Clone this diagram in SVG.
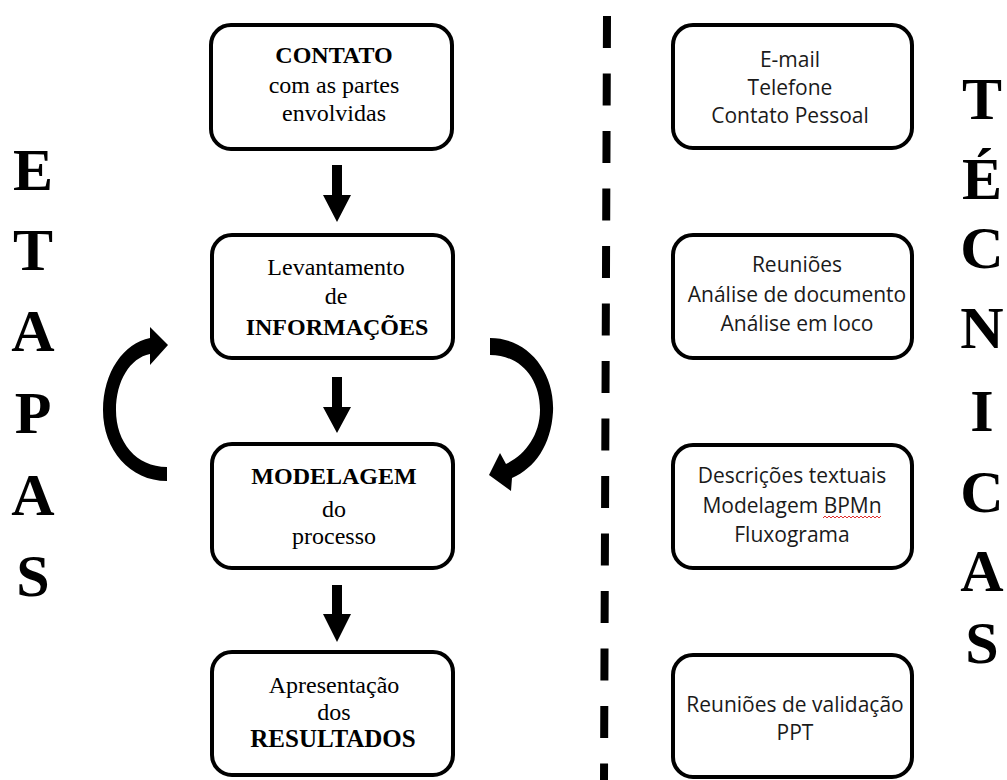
<svg xmlns="http://www.w3.org/2000/svg" width="1007" height="780" viewBox="0 0 1007 780">
<style>
.box{fill:#fff;stroke:#000;stroke-width:4}
.tl{font-family:"Liberation Serif","Times New Roman",serif;font-size:24px;fill:#000;text-anchor:middle}
.b{font-weight:bold}
.tr{font-family:"Open Sans","Noto Sans",sans-serif;font-size:21px;fill:#1a1a1a;text-anchor:middle}
.big{font-family:"Liberation Serif","Times New Roman",serif;font-size:60px;font-weight:bold;fill:#000;text-anchor:middle}
.arr{fill:#000}
</style>
<rect width="1007" height="780" fill="#fff"/>

<g id="etapas">
<text class="big" x="33" y="190">E</text>
<text class="big" x="33" y="270">T</text>
<text class="big" x="33" y="351">A</text>
<text class="big" x="33" y="433">P</text>
<text class="big" x="33" y="515">A</text>
<text class="big" x="33" y="596">S</text>
</g>
<g id="tecnicas">
<text class="big" x="982" y="119">T</text>
<text class="big" x="982" y="199">É</text>
<text class="big" x="982" y="268">C</text>
<text class="big" x="982" y="348">N</text>
<text class="big" x="982" y="431">I</text>
<text class="big" x="982" y="512">C</text>
<text class="big" x="982" y="591">A</text>
<text class="big" x="982" y="663">S</text>
</g>

<g id="box-contato">
<rect class="box" x="211" y="25" width="241" height="124" rx="20"/>
<text class="tl b" x="334" y="63">CONTATO</text>
<text class="tl" x="334" y="93">com as partes</text>
<text class="tl" x="334" y="121">envolvidas</text>
</g>
<g id="box-levantamento">
<rect class="box" x="212" y="235" width="241" height="123" rx="20"/>
<text class="tl" x="336" y="275">Levantamento</text>
<text class="tl" x="336" y="304">de</text>
<text class="tl b" x="337" y="335">INFORMAÇÕES</text>
</g>
<g id="box-modelagem">
<rect class="box" x="212" y="444" width="241" height="124" rx="20"/>
<text class="tl b" x="334" y="484">MODELAGEM</text>
<text class="tl" x="334" y="517">do</text>
<text class="tl" x="334" y="544">processo</text>
</g>
<g id="box-apresentacao">
<rect class="box" x="212" y="652" width="241" height="123" rx="20"/>
<text class="tl" x="334" y="693">Apresentação</text>
<text class="tl" x="334" y="720">dos</text>
<text class="tl b" x="333" y="747" style="font-size:25px">RESULTADOS</text>
</g>

<g id="tec-contato">
<rect class="box" x="673" y="25" width="239" height="123" rx="20"/>
<text class="tr" x="790" y="67">E-mail</text>
<text class="tr" x="790" y="95">Telefone</text>
<text class="tr" x="790" y="123">Contato Pessoal</text>
</g>
<g id="tec-levantamento">
<rect class="box" x="673" y="235" width="239" height="123" rx="20"/>
<text class="tr" x="797" y="272">Reuniões</text>
<text class="tr" x="797" y="302">Análise de documento</text>
<text class="tr" x="797" y="331">Análise em loco</text>
</g>
<g id="tec-modelagem">
<rect class="box" x="673" y="445" width="239" height="123" rx="20"/>
<text class="tr" x="792" y="483">Descrições textuais</text>
<text class="tr" x="792" y="513">Modelagem BPMn</text>
<text class="tr" x="792" y="542">Fluxograma</text>
<path d="M823 518 l2 -2 l2 2 l2 -2 l2 2 l2 -2 l2 2 l2 -2 l2 2 l2 -2 l2 2 l2 -2 l2 2 l2 -2 l2 2 l2 -2 l2 2 l2 -2 l2 2 l2 -2 l2 2 l2 -2 l2 2 l2 -2 l2 2 l2 -2 l2 2 l2 -2 l2 2 l2 -2" fill="none" stroke="#e03030" stroke-width="1"/>
</g>
<g id="tec-apresentacao">
<rect class="box" x="673" y="655" width="239" height="122" rx="20"/>
<text class="tr" x="795" y="712">Reuniões de validação</text>
<text class="tr" x="795" y="740">PPT</text>
</g>

<g id="connectors">
<path class="arr" d="M332 165 H342 V195 H351 L337 222 L323 195 H332 Z"/>
<path class="arr" d="M332 377 H342 V407 H351 L337 433 L323 407 H332 Z"/>
<path class="arr" d="M332 585 H342 V614 H351 L337 642 L323 614 H332 Z"/>
<path class="arr" d="M167 481 C130 481 103 450 103 410 C103 372 124 343 150 338 L150 327 L168 345 L150 365 L150 354 C130 358 116 381 116 410 C116 442 136 467 167 467 Z"/>
<path class="arr" d="M490 338 C528 338 555 372 553 412 C551 445 535 468 512 478 L511 491 L489 475 L500 453 L506 464 C525 455 540 435 540 410 C540 378 520 355 490 355 Z"/>
<line x1="607" y1="16" x2="604" y2="780" stroke="#000" stroke-width="8" stroke-dasharray="32 25.5"/>
</g>
</svg>
